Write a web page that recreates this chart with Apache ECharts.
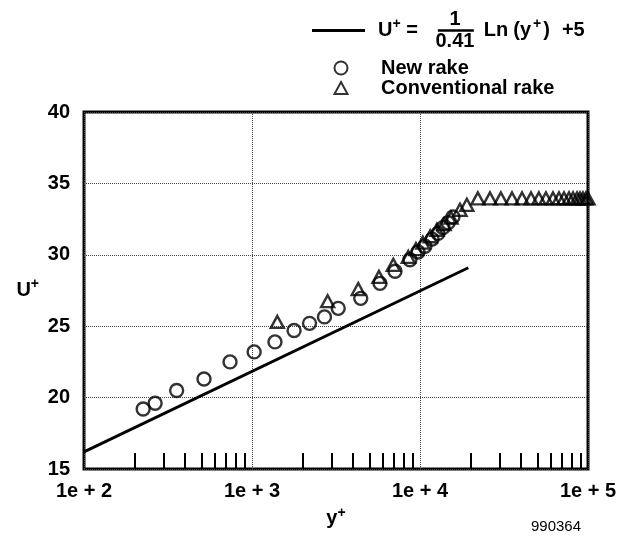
<!DOCTYPE html>
<html>
<head>
<meta charset="utf-8">
<script src="https://cdn.jsdelivr.net/npm/echarts@6/dist/echarts.min.js"></script>
<style>
html,body{margin:0;padding:0;background:#fff;}
#chart{width:621px;height:543px;}
</style>
</head>
<body>
<div id="chart"></div>
<script>
// ---- data ----
const xTickValues = [100, 1000, 10000, 100000];
const xTickLabels = ['1e + 2', '1e + 3', '1e + 4', '1e + 5'];
const xMinorTicks = [200, 300, 400, 500, 600, 700, 800, 900,
                     2000, 3000, 4000, 5000, 6000, 7000, 8000, 9000,
                     20000, 30000, 40000, 50000, 60000, 70000, 80000, 90000];

// log-law line  U+ = (1/0.41) Ln(y+) + 5  (end points)
const logLawY = [100, 19400];
const logLawU = [16.2, 29.1];

// New rake (circles)
const newRakeY = [225, 265, 356, 518, 740, 1030, 1370, 1780, 2200, 2700, 3260, 4440,
                  5780, 7100, 8710, 9730, 10700, 11800, 12800, 13700, 14700, 15700];
const newRakeU = [19.2, 19.6, 20.5, 21.3, 22.5, 23.2, 23.9, 24.7, 25.2, 25.65, 26.25, 26.95,
                  28.0, 28.85, 29.65, 30.2, 30.6, 31.1, 31.5, 31.9, 32.25, 32.65];

// Conventional rake (triangles)
const convRakeY = [1415, 2820, 4290, 5700, 6935, 8520, 9460, 10400, 11500, 12600, 13900,
                   15300, 17300, 19000,
                   22100, 26100, 30300, 35300, 40500, 45800, 51000, 56200, 61900, 67200,
                   72000, 77100, 81500, 86100, 89600, 93300, 97300, 100000];
const convRakeU = [25.3, 26.75, 27.6, 28.45, 29.3, 29.85, 30.4, 30.85, 31.3, 31.75, 32.15,
                   32.6, 33.15, 33.5,
                   33.95, 33.95, 33.95, 33.95, 33.95, 33.95, 33.95, 33.95, 33.95, 33.95,
                   33.95, 33.95, 33.95, 33.95, 33.95, 33.95, 33.95, 33.95];

const zip = (a, b) => a.map((v, i) => [v, b[i]]);
const FONT = "'Liberation Sans', Arial, Helvetica, sans-serif";
const bold = { fontFamily: FONT, fontWeight: 'bold', fontSize: 20, color: '#000' };

const chart = echarts.init(document.getElementById('chart'), null, { renderer: 'canvas' });

const supStyle = { fontFamily: FONT, fontWeight: 'bold', fontSize: 14, color: '#000', padding: [0, 0, 12, 0], lineHeight: 11 };
const LH = 11;
const pad = w => ({ width: w, lineHeight: LH });

const option = {
  animation: false,
  backgroundColor: '#fff',
  title: {
    text: '990364', left: 531, top: 519, padding: 0,
    textStyle: { fontFamily: FONT, fontWeight: 'normal', fontSize: 15, color: '#000' }
  },
  legend: [
    {
      data: [{ name: 'logLaw', icon: 'rect' }], left: 312, top: 9.5, padding: 0, orient: 'vertical',
      itemWidth: 53, itemHeight: 3, selectedMode: false, symbolKeepAspect: false,
      formatter: function () {
        return '{pn|}{b|1}\n' +
               '{g|}{b|U}{s|+}{b| =}{p2|}{bar|}{p3|}{b|Ln}{p4|}{b|(y}{p5|}{s|+}{p5|}{b|)}{p6|}{b|+5}\n' +
               '{pd|}{b|0.41}';
      },
      textStyle: {
        color: '#000',
        rich: {
          pn: pad(79.5),
          pd: pad(65.5),
          g: pad(8),
          b: Object.assign({}, bold, { lineHeight: LH }),
          s: supStyle,
          p2: pad(20),
          bar: { width: 36, height: 2.5, backgroundColor: '#000', lineHeight: LH },
          p3: pad(10),
          p4: pad(5),
          p5: pad(2),
          p6: pad(12)
        }
      }
    },
    {
      data: ['New rake'], left: 333.5, top: 58, padding: 0, orient: 'vertical',
      itemWidth: 13, itemHeight: 13, selectedMode: false,
      formatter: function (n) { return '{g|}{b|' + n + '}'; },
      textStyle: { color: '#000', rich: { g: { width: 28.5, lineHeight: 20 }, b: Object.assign({}, bold, { lineHeight: 20 }) } }
    },
    {
      data: ['Conventional rake'], left: 333.5, top: 78, padding: 0, orient: 'vertical',
      itemWidth: 13, itemHeight: 12, selectedMode: false,
      formatter: function (n) { return '{g|}{b|' + n + '}'; },
      textStyle: { color: '#000', rich: { g: { width: 28.5, lineHeight: 20 }, b: Object.assign({}, bold, { lineHeight: 20 }) } }
    }
  ],
  grid: {
    left: 84, right: 33, top: 112, bottom: 74,
    show: true, borderColor: '#000', borderWidth: 3, backgroundColor: 'transparent'
  },
  xAxis: [
    {
      type: 'log', logBase: 10, min: 100, max: 100000,
      name: '{b|y}{s|+}', nameLocation: 'middle', nameGap: 38,
      nameTextStyle: { rich: { b: Object.assign({}, bold), s: Object.assign({}, supStyle, { lineHeight: 20 }) } },
      axisLine: { show: false },
      axisTick: { show: false },
      axisLabel: Object.assign({}, bold, {
        margin: 12,
        formatter: function (v) {
          const i = xTickValues.findIndex(t => Math.abs(t - v) / t < 1e-6);
          return i >= 0 ? xTickLabels[i] : '';
        }
      }),
      splitLine: { show: true, lineStyle: { type: 'dotted', color: '#444', width: 1 } }
    },
    {
      type: 'log', logBase: 10, min: 100, max: 100000, position: 'bottom',
      axisLine: { show: false },
      axisLabel: { show: false },
      splitLine: { show: false },
      axisTick: { show: true, inside: true, length: 16, customValues: xMinorTicks,
                  lineStyle: { color: '#000', width: 2 } }
    }
  ],
  yAxis: {
    type: 'value', min: 15, max: 40, interval: 5,
    name: '{b|U}{s|+}', nameLocation: 'middle', nameRotate: 0, nameGap: 45,
    nameTextStyle: { rich: { b: Object.assign({}, bold), s: Object.assign({}, supStyle, { lineHeight: 20 }) } },
    axisLine: { show: false },
    axisTick: { show: false },
    axisLabel: Object.assign({}, bold, { margin: 14 }),
    splitLine: { show: true, lineStyle: { type: 'dotted', color: '#444', width: 1 } }
  },
  series: [
    {
      name: 'logLaw', type: 'line', xAxisIndex: 0,
      data: zip(logLawY, logLawU),
      symbol: 'none', silent: true,
      lineStyle: { color: '#000', width: 2.8 },
      itemStyle: { color: '#000' }
    },
    {
      name: 'New rake', type: 'scatter', xAxisIndex: 0,
      data: zip(newRakeY, newRakeU),
      symbol: 'circle', symbolSize: 13,
      itemStyle: { color: 'rgba(0,0,0,0)', borderColor: '#000', borderWidth: 2.4 }
    },
    {
      name: 'Conventional rake', type: 'scatter', xAxisIndex: 0,
      data: zip(convRakeY, convRakeU),
      symbol: 'triangle', symbolSize: [13, 12], clip: false,
      itemStyle: { color: 'rgba(0,0,0,0)', borderColor: '#000', borderWidth: 2.4 }
    }
  ]
};
chart.setOption(option);
</script>
</body>
</html>
